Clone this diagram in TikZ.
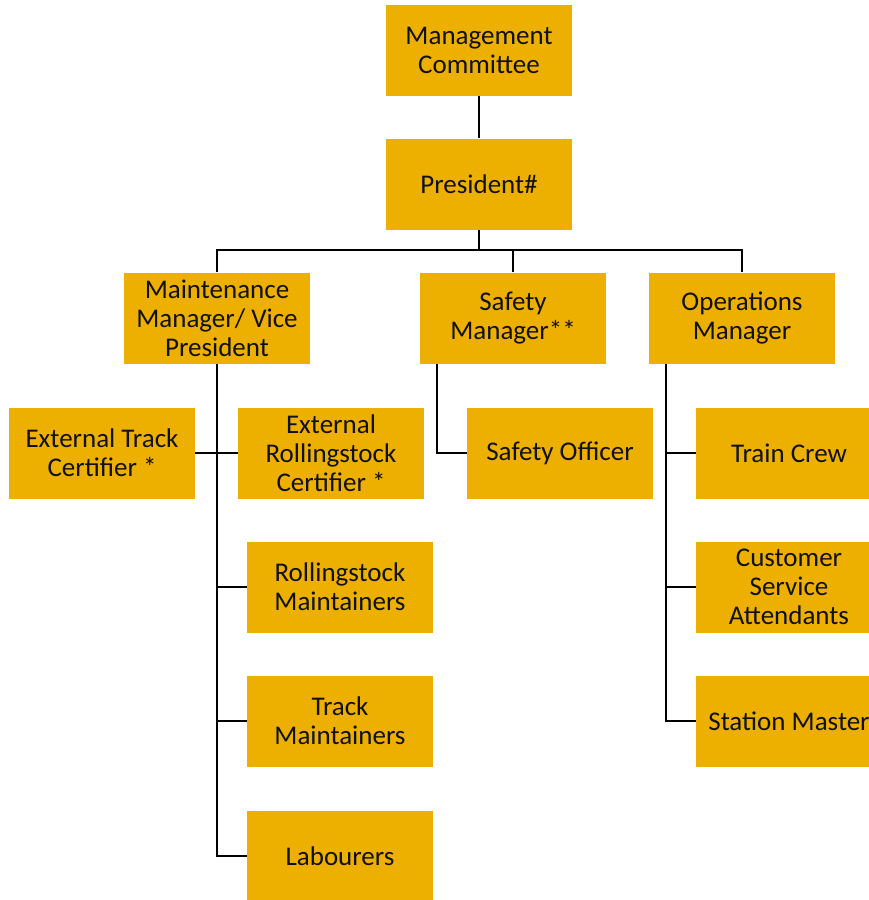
\documentclass[tikz,border=0pt]{standalone}
\usepackage{fontspec}
\setmainfont{Carlito}
\usetikzlibrary{positioning,calc}
\definecolor{gold}{HTML}{EEB000}
\definecolor{darktext}{HTML}{111111}

\begin{document}
\begin{tikzpicture}[x=1pt,y=-1pt,
  orgbox/.style={fill=gold, minimum width=186pt, minimum height=91pt, inner sep=0pt,
    align=center, text=darktext, font=\fontsize{27}{29}\selectfont},
  conn/.style={draw=black, line width=2.6pt}]
\useasboundingbox (0,0) rectangle (869,900);
% top of the chart
\node[orgbox] (mc) at (479,50) {Management\\Committee};
\node[orgbox] (pres) at (479,184) {President\#};
\node[orgbox] (mm) at (217,318) {Maintenance\\Manager/ Vice\\President};
\node[orgbox] (sm) at (513,318) {Safety\\Manager**};
\node[orgbox] (om) at (742,318) {Operations\\Manager};
% maintenance side
\node[orgbox] (etc) at (102,453) {External Track\\Certifier *};
\node[orgbox] (erc) at (331,453) {External\\Rollingstock\\Certifier *};
\node[orgbox] (rsm) at (340,587) {Rollingstock\\Maintainers};
\node[orgbox] (tm) at (340,721) {Track\\Maintainers};
\node[orgbox] (lab) at (340,856) {Labourers};
% safety side
\node[orgbox] (so) at (560,453) {Safety Officer};
% operations side
\node[orgbox] (tc) at (789,453) {Train Crew};
\node[orgbox] (csa) at (789,587) {Customer\\Service\\Attendants};
\node[orgbox] (stm) at (789,721) {Station Master};

\coordinate (bus) at (479,250);
\coordinate (sline) at ([xshift=17pt]sm.south west);
\coordinate (oline) at ([xshift=17pt]om.south west);

\draw[conn, line width=2pt] (mc) -- (pres);
\draw[conn] (pres) -- (bus);
\draw[conn] (mm.north) |- (bus) -| (om.north);
\draw[conn] (sm.north) -- (sm.north |- bus);

\draw[conn] (mm.south) |- (lab.west);
\draw[conn] (etc.east) -- (erc.west);
\draw[conn] (rsm.west) -- (rsm.west -| mm.south);
\draw[conn] (tm.west) -- (tm.west -| mm.south);

\draw[conn] (sline) |- (so.west);

\draw[conn] (oline) |- (stm.west);
\draw[conn] (tc.west) -- (tc.west -| oline);
\draw[conn] (csa.west) -- (csa.west -| oline);
\end{tikzpicture}
\end{document}
